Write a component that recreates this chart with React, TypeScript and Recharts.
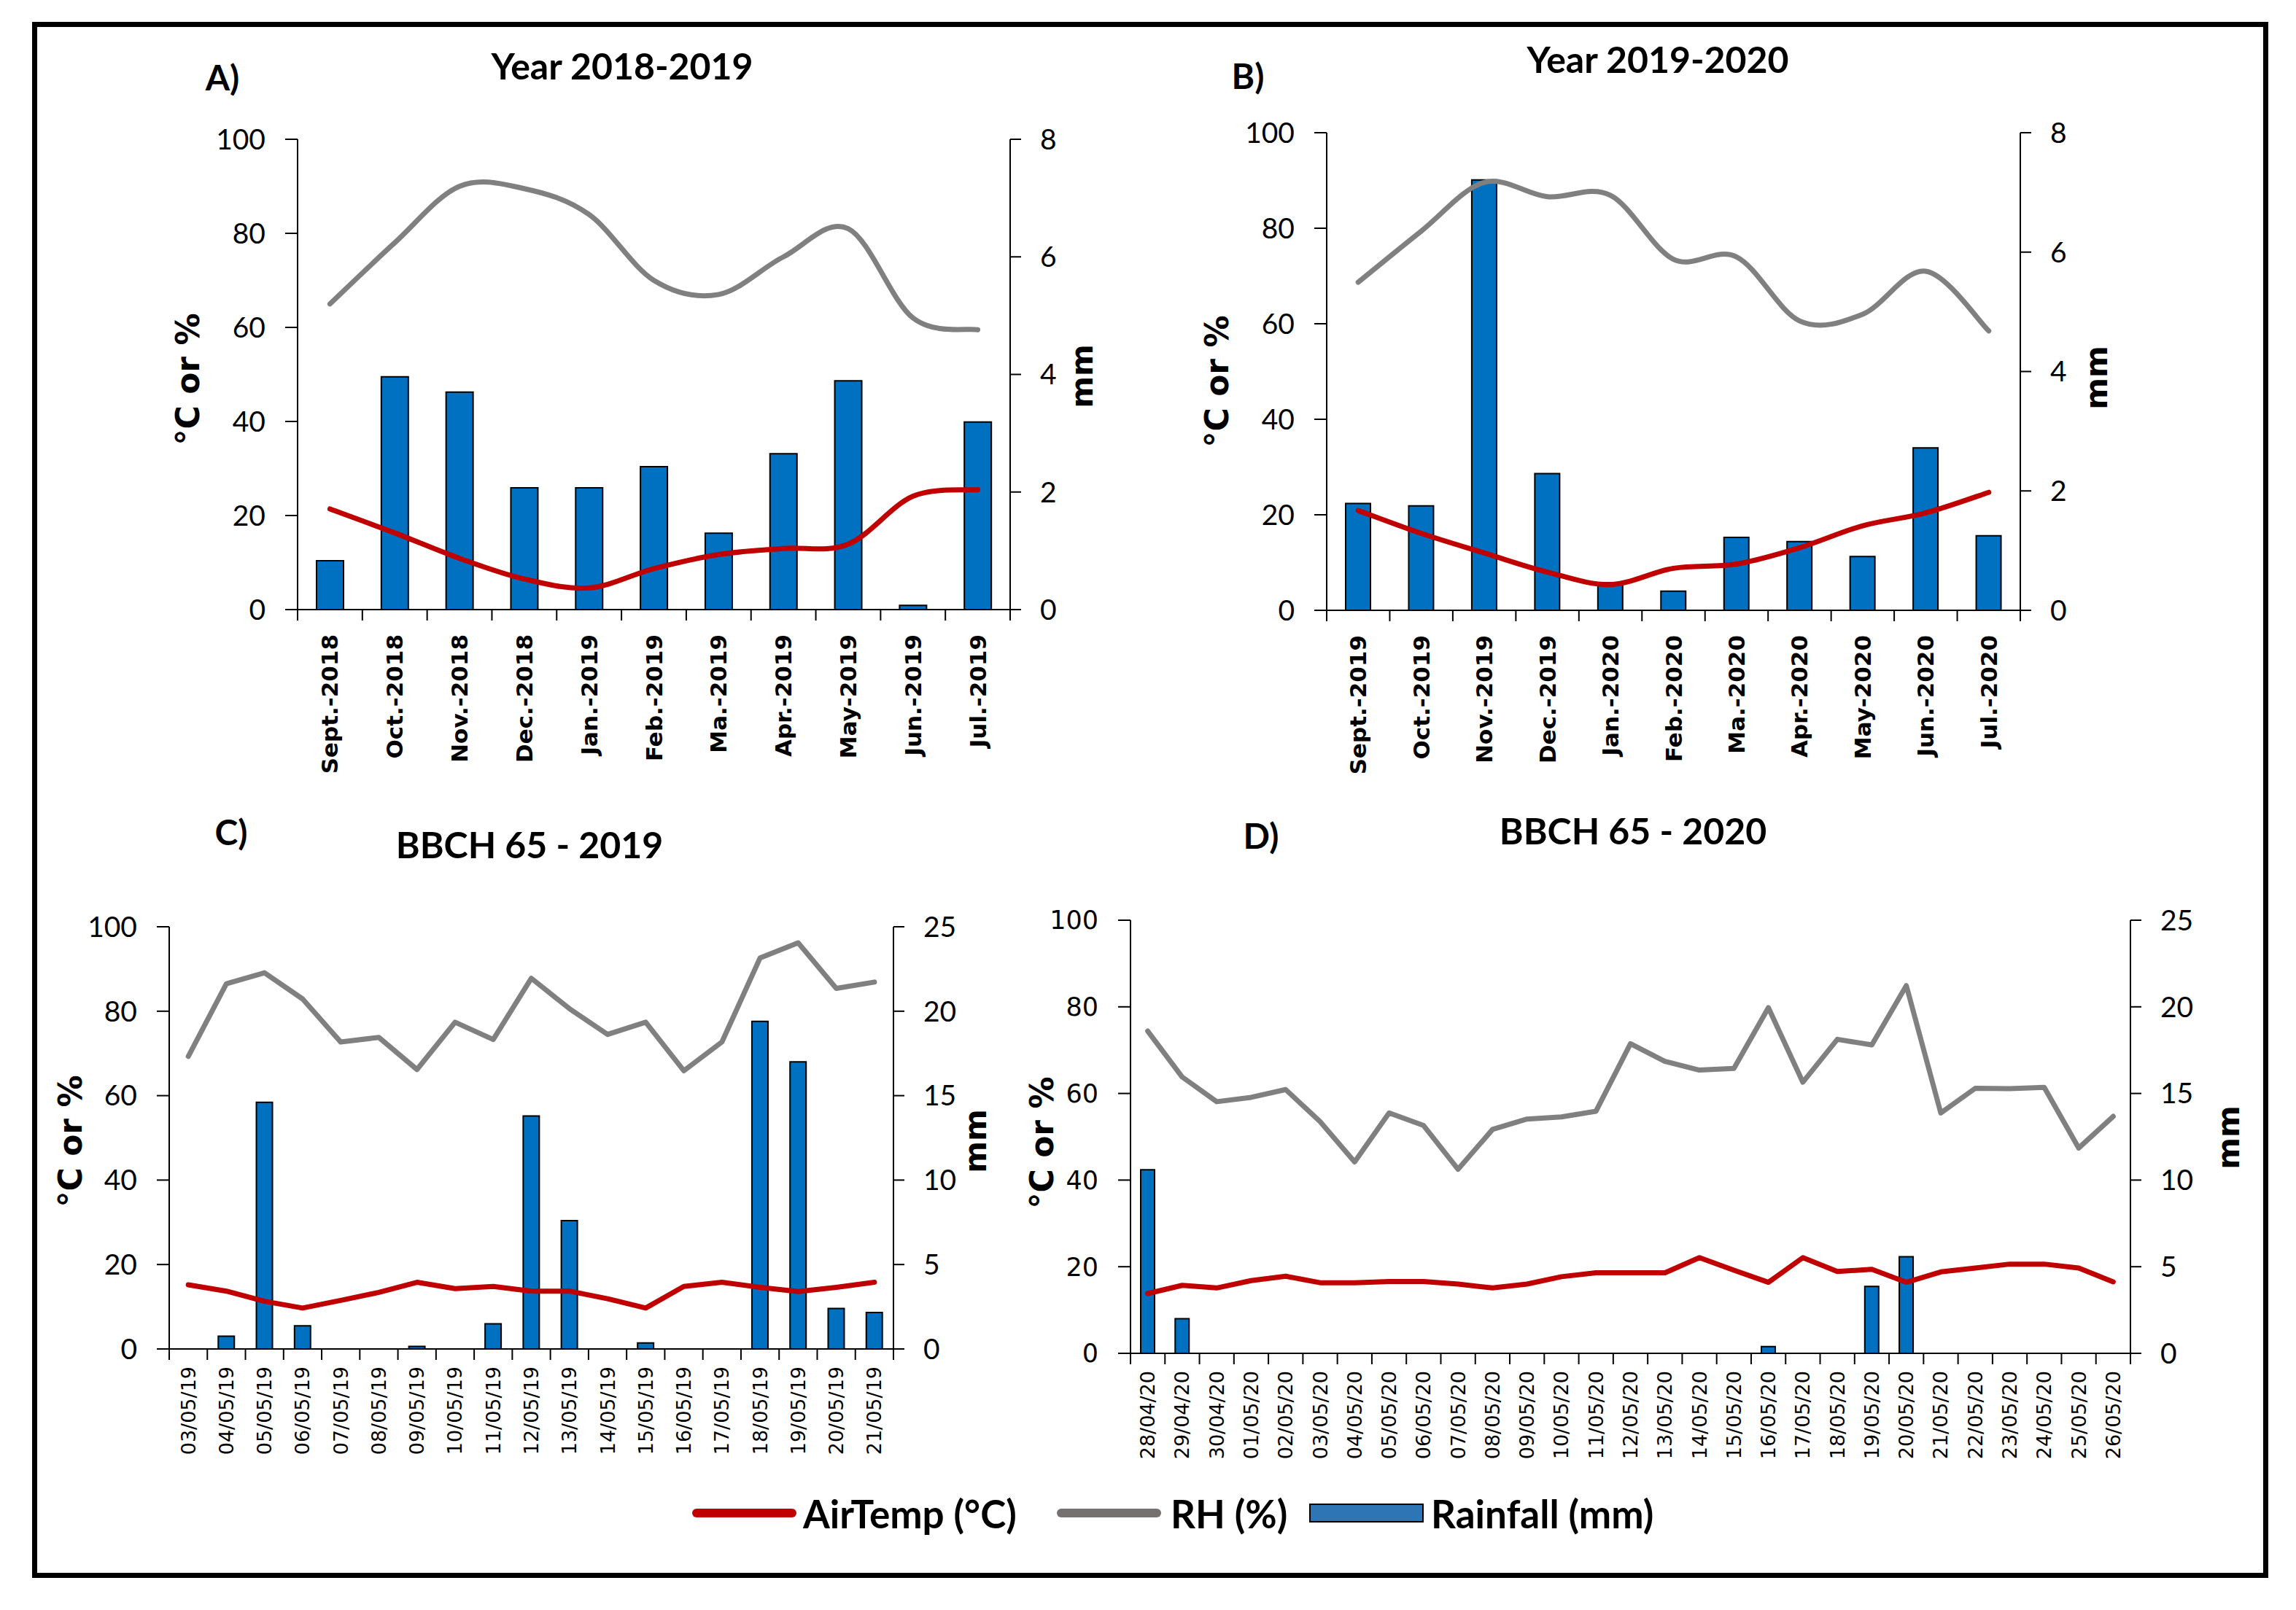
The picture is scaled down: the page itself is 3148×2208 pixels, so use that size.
import React from "react";
import { ComposedChart, Bar, Line, XAxis, YAxis } from "recharts";

const NARROW = "Lato, 'Open Sans', sans-serif";
const VERDANA = "'DejaVu Sans', Verdana, sans-serif";

const BLUE = "#0070C0";
const RED = "#C00000";
const GREY = "#808080";

// A) Year 2018-2019
const monthsA = ["Sept.-2018", "Oct.-2018", "Nov.-2018", "Dec.-2018", "Jan.-2019", "Feb.-2019", "Ma.-2019", "Apr.-2019", "May-2019", "Jun.-2019", "Jul.-2019"];
const rainA = [0.83, 3.96, 3.7, 2.07, 2.07, 2.43, 1.3, 2.65, 3.89, 0.07, 3.19];
const rhA = [65, 78, 90, 89.5, 84, 70, 67, 75, 81, 62, 59.5];
const tempA = [21.4, 16.3, 10.9, 6.5, 4.6, 8.7, 11.7, 13, 13.9, 24.1, 25.5];

// B) Year 2019-2020
const monthsB = ["Sept.-2019", "Oct.-2019", "Nov.-2019", "Dec.-2019", "Jan.-2020", "Feb.-2020", "Ma.-2020", "Apr.-2020", "May-2020", "Jun.-2020", "Jul.-2020"];
const rainB = [1.79, 1.75, 7.21, 2.29, 0.46, 0.32, 1.22, 1.15, 0.9, 2.72, 1.25];
const rhB = [68.7, 79.4, 89.6, 86.6, 86.9, 73.5, 74, 60.6, 62, 71, 58.5];
const tempB = [20.9, 16.1, 12, 8, 5.4, 8.8, 9.7, 13.1, 17.7, 20.4, 24.7];

// C) BBCH 65 - 2019
const daysC = ["03/05/19", "04/05/19", "05/05/19", "06/05/19", "07/05/19", "08/05/19", "09/05/19", "10/05/19", "11/05/19", "12/05/19", "13/05/19", "14/05/19", "15/05/19", "16/05/19", "17/05/19", "18/05/19", "19/05/19", "20/05/19", "21/05/19"];
const rainC = [0, 0.76, 14.6, 1.37, 0, 0, 0.15, 0, 1.49, 13.8, 7.6, 0, 0.36, 0, 0, 19.4, 17.0, 2.4, 2.16];
const rhC = [69.3, 86.5, 89.1, 82.9, 72.7, 73.8, 66.2, 77.4, 73.3, 87.8, 80.6, 74.5, 77.4, 65.9, 72.7, 92.6, 96.2, 85.4, 86.9];
const tempC = [15.2, 13.7, 11.3, 9.7, 11.5, 13.4, 15.8, 14.3, 14.8, 13.7, 13.7, 11.9, 9.7, 14.8, 15.8, 14.6, 13.6, 14.6, 15.8];

// D) BBCH 65 - 2020
const daysD = ["28/04/20", "29/04/20", "30/04/20", "01/05/20", "02/05/20", "03/05/20", "04/05/20", "05/05/20", "06/05/20", "07/05/20", "08/05/20", "09/05/20", "10/05/20", "11/05/20", "12/05/20", "13/05/20", "14/05/20", "15/05/20", "16/05/20", "17/05/20", "18/05/20", "19/05/20", "20/05/20", "21/05/20", "22/05/20", "23/05/20", "24/05/20", "25/05/20", "26/05/20"];
const rainD = [10.6, 2.0, 0, 0, 0, 0, 0, 0, 0, 0, 0, 0, 0, 0, 0, 0, 0, 0, 0.39, 0, 0, 3.86, 5.58, 0, 0, 0, 0, 0, 0];
const rhD = [74.4, 63.8, 58.1, 59.1, 60.9, 53.5, 44.2, 55.5, 52.6, 42.5, 51.7, 54.1, 54.6, 55.9, 71.5, 67.4, 65.4, 65.8, 79.8, 62.6, 72.5, 71.2, 84.9, 55.5, 61.2, 61.1, 61.4, 47.4, 54.7];
const tempD = [13.8, 15.7, 15.1, 16.8, 17.8, 16.3, 16.3, 16.6, 16.6, 16.0, 15.1, 16.0, 17.7, 18.6, 18.6, 18.6, 22.1, 19.2, 16.4, 22.1, 18.9, 19.4, 16.4, 18.8, 19.7, 20.6, 20.6, 19.7, 16.5];

const pctTicks = [0, 20, 40, 60, 80, 100];
const mmTicksYear = [0, 2, 4, 6, 8];
const mmTicksDay = [0, 5, 10, 15, 20, 25];

// Excel-like smoothed line (Catmull-Rom as bezier)
function excelSmooth(context: any) {
  let pts: number[][] = [];
  return {
    areaStart() {},
    areaEnd() {},
    lineStart() {
      pts = [];
    },
    point(x: number, y: number) {
      pts.push([+x, +y]);
    },
    lineEnd() {
      if (!pts.length) return;
      context.moveTo(pts[0][0], pts[0][1]);
      for (let i = 0; i < pts.length - 1; i++) {
        const p0 = pts[i - 1] || pts[i];
        const p1 = pts[i];
        const p2 = pts[i + 1];
        const p3 = pts[i + 2] || p2;
        context.bezierCurveTo(
          p1[0] + (p2[0] - p0[0]) / 6,
          p1[1] + (p2[1] - p0[1]) / 6,
          p2[0] - (p3[0] - p1[0]) / 6,
          p2[1] - (p3[1] - p1[1]) / 6,
          p2[0],
          p2[1]
        );
      }
    },
  };
}

const WL = 220;
const WR = 160;
const MT = 40;
const XH = 230;

interface PanelProps {
  labels: string[];
  rain: number[];
  rh: number[];
  temp: number[];
  plotL: number;
  plotR: number;
  plotT: number;
  plotB: number;
  mmMax: number;
  mmTicks: number[];
  smooth: boolean;
  barSize: number;
  xFont: { family: string; weight: number; size: number; gap: number };
  leftTick: { family: string; size: number };
  rightTick: { family: string; size: number };
}

function Panel(p: PanelProps) {
  const data = p.labels.map((d, i) => ({ day: d, rain: p.rain[i], rh: p.rh[i], temp: p.temp[i] }));
  const plotW = p.plotR - p.plotL;
  const plotH = p.plotB - p.plotT;
  const band = plotW / p.labels.length;
  const n = p.labels.length;

  const renderTick = (props: any) => {
    const { x, y, payload } = props;
    const idx = props.index ?? payload.index;
    const ty = y + p.xFont.gap;
    return (
      <g>
        <line x1={x - band / 2} x2={x - band / 2} y1={y} y2={y + 15} stroke="#000" strokeWidth={2} />
        {idx === n - 1 && <line x1={x + band / 2} x2={x + band / 2} y1={y} y2={y + 15} stroke="#000" strokeWidth={2} />}
        <text
          x={x}
          y={ty}
          transform={`rotate(-90 ${x} ${ty})`}
          textAnchor="end"
          dominantBaseline="central"
          fontFamily={p.xFont.family}
          fontWeight={p.xFont.weight}
          fontSize={p.xFont.size}
          fill="#000"
        >
          {payload.value}
        </text>
      </g>
    );
  };

  return (
    <div style={{ position: "absolute", left: p.plotL - WL, top: p.plotT - MT }}>
      <ComposedChart
        width={plotW + WL + WR}
        height={plotH + MT + XH}
        data={data}
        margin={{ top: MT, right: 0, bottom: 0, left: 0 }}
      >
        <XAxis
          dataKey="day"
          interval={0}
          height={XH}
          tickLine={false}
          tickSize={0}
          tickMargin={0}
          axisLine={{ stroke: "#000", strokeWidth: 2 }}
          tick={renderTick}
        />
        <YAxis
          yAxisId="l"
          domain={[0, 100]}
          ticks={pctTicks}
          interval={0}
          width={WL}
          tickSize={17}
          tickMargin={27}
          axisLine={{ stroke: "#000", strokeWidth: 2 }}
          tickLine={{ stroke: "#000", strokeWidth: 2 }}
          tick={{ fill: "#000", fontSize: p.leftTick.size, fontFamily: p.leftTick.family }}
        />
        <YAxis
          yAxisId="r"
          orientation="right"
          domain={[0, p.mmMax]}
          ticks={p.mmTicks}
          interval={0}
          width={WR}
          tickSize={15}
          tickMargin={26}
          axisLine={{ stroke: "#000", strokeWidth: 2 }}
          tickLine={{ stroke: "#000", strokeWidth: 2 }}
          tick={{ fill: "#000", fontSize: p.rightTick.size, fontFamily: p.rightTick.family }}
        />
        <Bar yAxisId="r" dataKey="rain" fill={BLUE} stroke="#000" strokeWidth={2} barSize={p.barSize} isAnimationActive={false} />
        <Line
          yAxisId="l"
          dataKey="temp"
          type={p.smooth ? (excelSmooth as any) : "linear"}
          stroke={RED}
          strokeWidth={7}
          strokeLinecap="round"
          strokeLinejoin="round"
          dot={false}
          activeDot={false}
          isAnimationActive={false}
        />
        <Line
          yAxisId="l"
          dataKey="rh"
          type={p.smooth ? (excelSmooth as any) : "linear"}
          stroke={GREY}
          strokeWidth={7}
          strokeLinecap="round"
          strokeLinejoin="round"
          dot={false}
          activeDot={false}
          isAnimationActive={false}
        />
      </ComposedChart>
    </div>
  );
}

function Txt(props: { x: number; y: number; size: number; family: string; weight?: number; rotate?: boolean; children: React.ReactNode }) {
  return (
    <div
      style={{
        position: "absolute",
        left: props.x,
        top: props.y,
        transform: `translate(-50%, -50%)${props.rotate ? " rotate(-90deg)" : ""}`,
        fontSize: props.size,
        fontFamily: props.family,
        fontWeight: props.weight ?? 700,
        whiteSpace: "nowrap",
        lineHeight: 1,
        color: "#000",
      }}
    >
      {props.children}
    </div>
  );
}

const yearX = { family: VERDANA, weight: 700, size: 31, gap: 34 };
const dayX = { family: VERDANA, weight: 400, size: 27, gap: 24 };
const narrowTick = { family: NARROW, size: 39 };
const verdanaTick = { family: VERDANA, size: 35 };

const legendText = { position: "absolute" as const, top: 2075, transform: "translateY(-50%)", fontFamily: NARROW, fontWeight: 700, fontSize: 53, lineHeight: 1, whiteSpace: "nowrap" as const };

export default function App() {
  return (
    <div style={{ position: "absolute", left: 0, top: 0, width: 3148, height: 2208, background: "#fff", overflow: "hidden" }}>
      <div
        style={{
          position: "absolute",
          left: 44,
          top: 30,
          width: 3066,
          height: 2134,
          border: "7px solid #000",
          boxSizing: "border-box",
        }}
      />

      <Panel labels={monthsA} rain={rainA} rh={rhA} temp={tempA} plotL={408} plotR={1385} plotT={191} plotB={836}
        mmMax={8} mmTicks={mmTicksYear} smooth barSize={37} xFont={yearX} leftTick={narrowTick} rightTick={narrowTick} />
      <Panel labels={monthsB} rain={rainB} rh={rhB} temp={tempB} plotL={1819} plotR={2770} plotT={182} plotB={837}
        mmMax={8} mmTicks={mmTicksYear} smooth barSize={34} xFont={yearX} leftTick={narrowTick} rightTick={narrowTick} />
      <Panel labels={daysC} rain={rainC} rh={rhC} temp={tempC} plotL={232} plotR={1225} plotT={1271} plotB={1850}
        mmMax={25} mmTicks={mmTicksDay} smooth={false} barSize={22} xFont={dayX} leftTick={narrowTick} rightTick={narrowTick} />
      <Panel labels={daysD} rain={rainD} rh={rhD} temp={tempD} plotL={1550} plotR={2921} plotT={1262} plotB={1856}
        mmMax={25} mmTicks={mmTicksDay} smooth={false} barSize={19} xFont={dayX} leftTick={verdanaTick} rightTick={narrowTick} />

      <Txt x={305} y={106} size={48} family={NARROW}>A)</Txt>
      <Txt x={853} y={90} size={50} family={NARROW}>Year 2018-2019</Txt>
      <Txt x={1711} y={104} size={48} family={NARROW}>B)</Txt>
      <Txt x={2273} y={81} size={50} family={NARROW}>Year 2019-2020</Txt>
      <Txt x={317} y={1141} size={48} family={NARROW}>C)</Txt>
      <Txt x={726} y={1158} size={50} family={NARROW}>BBCH 65 - 2019</Txt>
      <Txt x={1729} y={1146} size={48} family={NARROW}>D)</Txt>
      <Txt x={2239} y={1139} size={50} family={NARROW}>BBCH 65 - 2020</Txt>

      <Txt x={258} y={520} size={44} family={VERDANA} rotate>°C or %</Txt>
      <Txt x={1484} y={516} size={42} family={VERDANA} rotate>mm</Txt>
      <Txt x={1669} y={523} size={44} family={VERDANA} rotate>°C or %</Txt>
      <Txt x={2875} y={518} size={42} family={VERDANA} rotate>mm</Txt>
      <Txt x={97} y={1565} size={44} family={VERDANA} rotate>°C or %</Txt>
      <Txt x={1338} y={1565} size={42} family={VERDANA} rotate>mm</Txt>
      <Txt x={1429} y={1567} size={44} family={VERDANA} rotate>°C or %</Txt>
      <Txt x={3056} y={1560} size={42} family={VERDANA} rotate>mm</Txt>

      {/* legend */}
      <div style={{ position: "absolute", left: 949, top: 2069, width: 143, height: 12, borderRadius: 6, background: RED }} />
      <div style={{ ...legendText, left: 1101 }}>AirTemp (°C)</div>
      <div style={{ position: "absolute", left: 1449, top: 2069, width: 143, height: 12, borderRadius: 6, background: "#767171" }} />
      <div style={{ ...legendText, left: 1605 }}>RH (%)</div>
      <div style={{ position: "absolute", left: 1795, top: 2062, width: 157, height: 26, background: "#2E75B6", border: "2px solid #000", boxSizing: "border-box" }} />
      <div style={{ ...legendText, left: 1962 }}>Rainfall (mm)</div>
    </div>
  );
}
